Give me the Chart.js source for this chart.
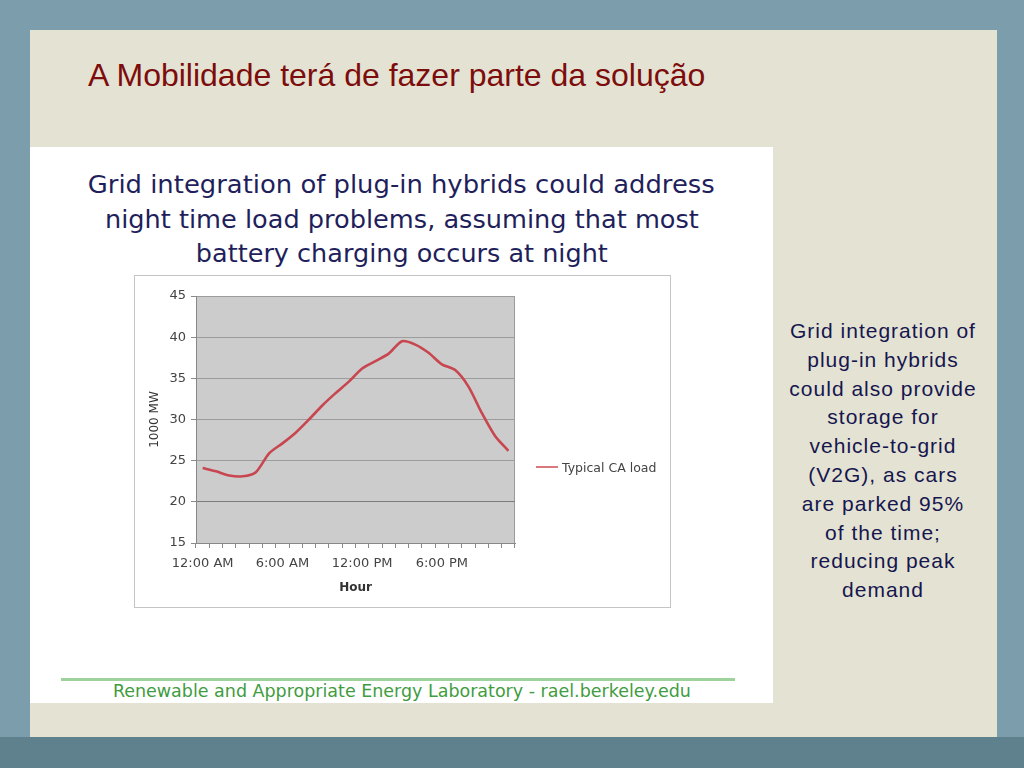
<!DOCTYPE html>
<html>
<head>
<meta charset="utf-8">
<script src="https://cdn.jsdelivr.net/npm/chart.js@4.4.1/dist/chart.umd.min.js"></script>
<style>
  html, body { margin:0; padding:0; }
  body { width:1024px; height:768px; position:relative; overflow:hidden; background:#7c9eac; font-family:"Liberation Sans", Arial, sans-serif; }
  #band { position:absolute; left:0; top:737px; width:1024px; height:31px; background:#5f818e; }
  #panel { position:absolute; left:30px; top:30px; width:967px; height:707px; background:#e4e3d3; }
  #slideTitle { position:absolute; left:88px; top:59px; font-size:32px; line-height:32px; color:#7d0c0c; white-space:nowrap; }
  #imgBox { position:absolute; left:30px; top:147px; width:743px; height:556px; background:#ffffff; }
  .fitLine { position:absolute; left:0; width:743px; text-align:center; white-space:nowrap; }
  .fitLine span { display:inline-block; transform-origin:50% 50%; }
  .hdr { font-family:"DejaVu Sans", sans-serif; font-size:25px; line-height:34px; color:#1f1f5c; }
  .ftr { font-family:"DejaVu Sans", sans-serif; font-size:18.5px; line-height:24px; color:#3f9c3f; }
  #greenRule { position:absolute; left:31px; top:531px; width:674px; height:3px; background:#9dd29d; }
  #chartBox { position:absolute; left:134px; top:275px; width:535px; height:331px; border:1px solid #c4c4c4; background:#fff; }
  #chartCanvas { position:absolute; left:134px; top:275px; }
  #legend { position:absolute; left:536px; top:459px; height:16px; display:flex; align-items:center; font-family:"DejaVu Sans", sans-serif; font-size:12.5px; color:#444; white-space:nowrap; }
  #legend i { display:inline-block; width:22px; height:2.5px; margin-right:4px; }
  #sideText { position:absolute; left:773px; top:317px; width:220px; text-align:center; font-size:21px; line-height:28.8px; letter-spacing:1px; color:#16164f; }
</style>
</head>
<body>
<div id="band"></div>
<div id="panel"></div>
<div id="slideTitle">A Mobilidade terá de fazer parte da solução</div>
<div id="imgBox">
  <div class="fitLine hdr" style="top:21px"><span data-w="627">Grid integration of plug-in hybrids could address</span></div>
  <div class="fitLine hdr" style="top:55.5px"><span data-w="594">night time load problems, assuming that most</span></div>
  <div class="fitLine hdr" style="top:90px"><span data-w="412">battery charging occurs at night</span></div>
  <div id="greenRule"></div>
  <div class="fitLine ftr" style="top:532px"><span data-w="578">Renewable and Appropriate Energy Laboratory - rael.berkeley.edu</span></div>
</div>
<div id="chartBox"></div>
<canvas id="chartCanvas" width="537" height="333"></canvas>
<div id="legend"></div>
<div id="sideText">Grid integration of<br>plug-in hybrids<br>could also provide<br>storage for<br>vehicle-to-grid<br>(V2G), as cars<br>are parked 95%<br>of the time;<br>reducing peak<br>demand</div>

<script>
// ---- data ----
const hourLabels = ['12:00 AM','1:00 AM','2:00 AM','3:00 AM','4:00 AM','5:00 AM',
                    '6:00 AM','7:00 AM','8:00 AM','9:00 AM','10:00 AM','11:00 AM',
                    '12:00 PM','1:00 PM','2:00 PM','3:00 PM','4:00 PM','5:00 PM',
                    '6:00 PM','7:00 PM','8:00 PM','9:00 PM','10:00 PM','11:00 PM'];
const loadValues = [24.1, 23.7, 23.2, 23.1, 23.6, 25.9, 27.1, 28.4, 30.0, 31.7, 33.2, 34.6,
                    36.2, 37.1, 38.0, 39.5, 39.1, 38.1, 36.7, 36.0, 34.0, 30.8, 28.0, 26.2];
const yTickValues = [15, 20, 25, 30, 35, 40, 45];
const seriesName = 'Typical CA load';
const yTitle = '1000 MW';
const xTitle = 'Hour';
const labelEvery = 6;

// ---- text fitting (header/footer of the picture) ----
document.querySelectorAll('.fitLine span').forEach(s => {
  const w = s.getBoundingClientRect().width;
  const target = parseFloat(s.dataset.w);
  if (w > 0) s.style.transform = 'scaleX(' + (target / w) + ')';
});

// ---- legend ----
const lineColor = '#c7464f';
const lg = document.getElementById('legend');
const sw = document.createElement('i'); sw.style.background = '#d9787d';
lg.appendChild(sw); lg.appendChild(document.createTextNode(seriesName));

// ---- chart ----
const plotBg = {
  id: 'plotBg',
  beforeDraw(chart) {
    const a = chart.chartArea, ctx = chart.ctx;
    ctx.save(); ctx.fillStyle = '#cccccc';
    ctx.fillRect(a.left, a.top, a.right - a.left, a.bottom - a.top);
    ctx.restore();
  }
};
const tickFont = { family: 'DejaVu Sans', size: 13 };

new Chart(document.getElementById('chartCanvas'), {
  type: 'line',
  data: {
    labels: hourLabels,
    datasets: [{
      label: seriesName,
      data: loadValues,
      borderColor: lineColor,
      borderWidth: 2.6,
      tension: 0.25,
      pointRadius: 0,
      fill: false
    }]
  },
  options: {
    responsive: false,
    animation: false,
    devicePixelRatio: 1,
    layout: { padding: { top: 21, right: 156, left: 0, bottom: 0 } },
    plugins: { legend: { display: false }, tooltip: { enabled: false } },
    scales: {
      x: {
        type: 'category',
        offset: true,
        afterFit: s => { s.height = 65; },
        grid: {
          offset: true,
          drawOnChartArea: true,
          color: c => c.type === 'scale' ? '#9a9a9a' : 'rgba(0,0,0,0)',
          tickColor: '#8a8a8a',
          tickLength: 5
        },
        border: { color: '#888888', width: 1 },
        ticks: {
          autoSkip: false, maxRotation: 0, minRotation: 0, padding: 8,
          color: '#444', font: tickFont,
          callback: function (v, i) { return i % labelEvery === 0 ? this.getLabelForValue(v) : ''; }
        },
        title: { display: true, text: xTitle, color: '#333',
                 font: { family: 'DejaVu Sans', size: 12, weight: 'bold' },
                 padding: { top: 0, bottom: 13 } }
      },
      y: {
        min: 15, max: 45,
        afterFit: s => { s.width = 62; },
        afterBuildTicks: s => { s.ticks = yTickValues.map(v => ({ value: v })); },
        grid: {
          color: c => (c.tick && c.tick.value === 20) ? '#7c7c7c' : '#9c9c9c',
          tickColor: '#8a8a8a',
          tickLength: 5
        },
        border: { color: '#888888', width: 1 },
        ticks: { color: '#444', font: tickFont, padding: 5 },
        title: { display: true, text: yTitle, color: '#333',
                 font: { family: 'DejaVu Sans', size: 12 },
                 padding: { top: 14, bottom: 0 } }
      }
    }
  },
  plugins: [plotBg]
});
</script>
</body>
</html>
